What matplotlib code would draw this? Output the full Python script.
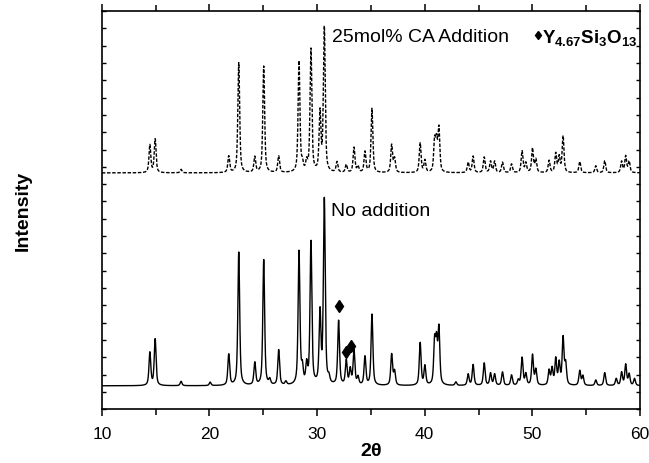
import numpy as np
import matplotlib
matplotlib.use("Agg")
import matplotlib.pyplot as plt

plt.rcParams['font.family'] = ['Liberation Sans', 'DejaVu Sans']
plt.rcParams['mathtext.fontset'] = 'custom'
plt.rcParams['mathtext.rm'] = 'Liberation Sans'
plt.rcParams['mathtext.bf'] = 'Liberation Sans:bold'

# peak positions (2theta) and heights above baseline
bot_base = 1.35
bot_pos = [14.46, 14.95, 17.36, 20.06, 21.79, 22.72, 24.21, 25.04, 25.6, 26.43,
           27.1, 28.32, 28.63, 29.03, 29.43, 30.27, 30.67, 31.1, 32.0, 32.71,
           33.08, 33.43, 33.8, 34.45, 35.10, 36.93, 37.2, 39.58, 40.02, 40.92,
           41.1, 41.32, 42.9, 44.04, 44.5, 45.53, 46.12, 46.5, 47.23, 48.07,
           48.7, 49.05, 49.4, 50.02, 50.33, 51.56, 51.84, 52.18, 52.5, 52.86,
           53.1, 54.41, 54.7, 55.9, 56.73, 57.8, 58.3, 58.68, 59.0, 59.5]
bot_h = [1.9, 2.7, 0.25, 0.2, 1.8, 7.7, 1.3, 7.25, 0.3, 2.05,
         0.2, 7.7, 0.9, 1.1, 8.3, 4.1, 10.75, 0.35, 3.7, 1.4,
         0.9, 2.0, 0.45, 1.65, 4.1, 1.8, 0.8, 2.45, 1.1, 2.4,
         2.3, 3.2, 0.2, 0.65, 1.2, 1.3, 0.7, 0.65, 0.78, 0.6,
         0.3, 1.6, 0.65, 1.75, 0.9, 0.85, 0.95, 1.5, 1.25, 2.7,
         1.2, 0.85, 0.55, 0.32, 0.75, 0.4, 0.75, 1.2, 0.65, 0.4]

top_base = 13.65
top_pos = [14.46, 14.95, 17.36, 21.79, 22.72, 24.21, 25.04, 26.43, 28.32, 28.63,
           29.03, 29.43, 30.27, 30.67, 31.85, 32.71, 33.43, 33.8, 34.45, 35.10,
           36.93, 37.2, 39.58, 40.02, 40.92, 41.1, 41.32, 44.04, 44.5, 45.53,
           46.12, 46.5, 47.23, 48.07, 49.05, 49.4, 50.02, 50.33, 51.56, 52.18,
           52.5, 52.86, 54.41, 55.9, 56.73, 58.3, 58.68, 59.0]
top_h = [1.6, 1.95, 0.2, 0.95, 6.35, 0.9, 6.15, 0.95, 6.4, 0.45,
         0.55, 7.15, 3.4, 8.4, 0.6, 0.45, 1.45, 0.35, 1.2, 3.7,
         1.6, 0.8, 1.7, 0.7, 1.75, 1.65, 2.5, 0.6, 0.95, 0.9,
         0.65, 0.65, 0.6, 0.5, 1.25, 0.55, 1.4, 0.75, 0.7, 1.1,
         0.9, 2.1, 0.65, 0.4, 0.7, 0.65, 0.95, 0.65]

# Y4.67Si3O13 markers
mark_x = [32.0, 32.71, 33.18]
mark_y = [5.94, 3.33, 3.66]

two_theta = np.arange(10, 60.001, 0.02)


def pattern(base, pos, h, fwhm=0.2, eta=0.6):
    y = np.full_like(two_theta, base)
    for p, a in zip(pos, h):
        d = (two_theta - p) / (fwhm / 2)
        y += a * (eta / (1 + d**2) + (1 - eta) * np.exp(-np.log(2) * d**2))
    return y


y_bot = pattern(bot_base, bot_pos, bot_h)
y_top = pattern(top_base, top_pos, top_h)

fig = plt.figure(figsize=(6.49, 4.64), dpi=100)
ax = fig.add_axes([0.157, 0.116, 0.829, 0.858])

ax.plot(two_theta, y_bot, color='black', lw=1.0)
ax.plot(two_theta, y_top, color='black', lw=1.0, ls=(0, (2.5, 1.2)))
ax.plot(mark_x, mark_y, ls='none', marker='d', ms=6.5, color='black')

ax.text(31.28, 11.5, 'No addition', fontsize=14, va='center')
ax.text(31.4, 21.55, '25mol% CA Addition', fontsize=14, va='center')
ax.plot([50.5], [21.6], ls='none', marker='d', ms=4.5, color='black')
ax.text(50.9, 21.5, r'$\mathbf{Y_{4.67}Si_{3}O_{13}}$', fontsize=13.5, va='center')

ax.set_xlim(10, 60)
ax.set_ylim(0, 23)
ax.set_xticks(np.arange(10, 61, 10))
ax.set_xticks(np.arange(15, 60, 10), minor=True)
ax.set_yticks(np.arange(0, 24, 1))
ax.set_yticklabels([])
ax.tick_params(axis='x', which='both', direction='out', labelsize=12.5,
               width=1.1, pad=7)
ax.tick_params(axis='x', which='major', length=5)
ax.tick_params(axis='x', which='minor', length=4)
ax.tick_params(axis='y', which='both', direction='in', length=3, width=1.0,
               right=True)
ax.tick_params(top=True, which='both')
for s in ax.spines.values():
    s.set_linewidth(1.2)

ax.set_xlabel(r'2$\mathbf{\theta}$', fontsize=14, fontweight='bold', labelpad=1)
ax.set_ylabel('Intensity', fontsize=14, fontweight='bold')
ax.yaxis.set_label_coords(-0.13, 0.5)

fig.savefig('out.png', dpi=100)
